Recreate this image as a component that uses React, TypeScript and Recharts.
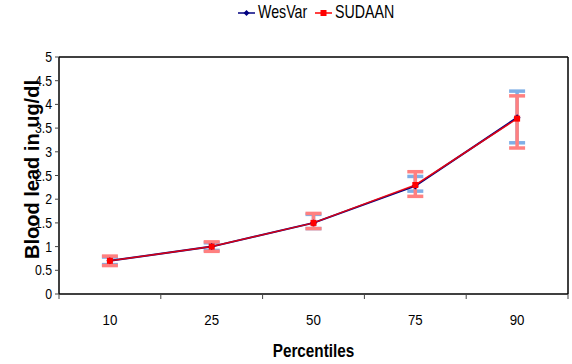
import React from "react";
import {
  ComposedChart,
  Line,
  XAxis,
  YAxis,
  ErrorBar,
  Legend,
  ReferenceLine,
} from "recharts";

const PERCENTILES = ["10", "25", "50", "75", "90"];
const WESVAR = [0.7, 1.0, 1.5, 2.28, 3.72];
const WESVAR_ERR: [number, number][] = [
  [0.08, 0.08],
  [0.08, 0.08],
  [0.12, 0.18],
  [0.11, 0.2],
  [0.53, 0.56],
];
const SUDAAN = [0.7, 1.0, 1.5, 2.3, 3.7];
const SUDAAN_ERR: [number, number][] = [
  [0.1, 0.1],
  [0.1, 0.1],
  [0.12, 0.2],
  [0.24, 0.28],
  [0.62, 0.48],
];
const Y_TICKS = [0, 0.5, 1, 1.5, 2, 2.5, 3, 3.5, 4, 4.5, 5];

const data = PERCENTILES.map((p, i) => ({
  pct: p,
  wesvar: WESVAR[i],
  wesvarErr: WESVAR_ERR[i],
  sudaan: SUDAAN[i],
  sudaanErr: SUDAAN_ERR[i],
}));

const FONT = '"Liberation Sans", Arial, sans-serif';
const NAVY = "#000080";
const RED = "#ff0000";

const W = 572;
const H = 364;
const LEGEND_H = 20;
const MARGIN = { top: 57 - LEGEND_H, right: 4, bottom: 0, left: 0 };
const Y_AXIS_W = 59;
const X_AXIS_H = 70;
const BAND = (W - MARGIN.left - MARGIN.right - Y_AXIS_W) / PERCENTILES.length;

// text squeezed horizontally, as in the original export
function Narrow(props: any) {
  const { x, y, sx = 0.85, children, ...rest } = props;
  return (
    <text transform={`translate(${x} ${y}) scale(${sx} 1)`} fontFamily={FONT} fill="#000" {...rest}>
      {children}
    </text>
  );
}

function XTick(props: any) {
  const { x, y, payload, index } = props;
  const half = BAND / 2;
  return (
    <g>
      <line x1={x - half} x2={x - half} y1={y} y2={y + 5} stroke="#444" />
      {index === PERCENTILES.length - 1 && (
        <line x1={x + half} x2={x + half} y1={y} y2={y + 5} stroke="#444" />
      )}
      <Narrow x={x} y={y + 31} sx={0.95} textAnchor="middle" fontSize={14}>
        {payload.value}
      </Narrow>
    </g>
  );
}

function YTick(props: any) {
  const { x, y, payload } = props;
  return (
    <Narrow x={x} y={y + 5} sx={0.88} textAnchor="end" fontSize={14}>
      {payload.value}
    </Narrow>
  );
}

function Diamond(props: any) {
  const { cx, cy } = props;
  if (cx == null || cy == null) return null;
  return (
    <path
      d={`M${cx},${cy - 3.5}L${cx + 3.5},${cy}L${cx},${cy + 3.5}L${cx - 3.5},${cy}Z`}
      fill={NAVY}
    />
  );
}

function Square(props: any) {
  const { cx, cy } = props;
  if (cx == null || cy == null) return null;
  return <rect x={cx - 3} y={cy - 3} width={6} height={6} fill={RED} />;
}

const LEGEND_ITEMS = [
  { name: "WesVar", color: NAVY, marker: "diamond", at: 238 },
  { name: "SUDAAN", color: RED, marker: "square", at: 315 },
];

function LegendContent() {
  return (
    <svg width={W} height={LEGEND_H} style={{ display: "block" }}>
      {LEGEND_ITEMS.map((it) => (
        <g key={it.name}>
          <line x1={it.at} x2={it.at + 17} y1={13} y2={13} stroke={it.color} strokeWidth={1.5} />
          {it.marker === "diamond" ? (
            <path
              d={`M${it.at + 8.5},${10}L${it.at + 11.5},${13}L${it.at + 8.5},${16}L${it.at + 5.5},${13}Z`}
              fill={it.color}
            />
          ) : (
            <rect x={it.at + 5.5} y={10} width={6} height={6} fill={it.color} />
          )}
          <Narrow x={it.at + 20} y={18} sx={0.79} fontSize={18}>
            {it.name}
          </Narrow>
        </g>
      ))}
    </svg>
  );
}

function YLabel(props: any) {
  const vb = props.viewBox || { x: 0, y: 57, width: Y_AXIS_W, height: 237 };
  const cx = vb.x + 32;
  const cy = vb.y + vb.height / 2 - 6;
  return (
    <text
      x={cx}
      y={cy}
      transform={`rotate(-90 ${cx} ${cy})`}
      textAnchor="middle"
      dominantBaseline="central"
      fontFamily={FONT}
      fontWeight="bold"
      fontSize={20}
      fill="#000"
    >
      Blood lead in ug/dl
    </text>
  );
}

function XLabel(props: any) {
  const vb = props.viewBox || { x: Y_AXIS_W, y: 294, width: 509, height: X_AXIS_H };
  return (
    <Narrow x={vb.x + vb.width / 2} y={vb.y + 63} sx={0.85} textAnchor="middle" fontWeight="bold" fontSize={18}>
      Percentiles
    </Narrow>
  );
}

export default function App() {
  return (
    <div style={{ position: "absolute", left: 0, top: 0, width: W, height: H, background: "#fff" }}>
      <ComposedChart width={W} height={H} data={data} margin={MARGIN}>
        <Legend
          verticalAlign="top"
          content={<LegendContent />}
          wrapperStyle={{ top: 0, left: 0, width: W, height: LEGEND_H }}
        />
        <XAxis
          dataKey="pct"
          scale="band"
          height={X_AXIS_H}
          axisLine={{ stroke: "#000", strokeWidth: 1.5 }}
          tickLine={false}
          tickSize={0}
          tickMargin={0}
          tick={<XTick />}
          interval={0}
          label={<XLabel />}
        />
        <YAxis
          width={Y_AXIS_W}
          domain={[0, 5]}
          ticks={Y_TICKS}
          interval={0}
          axisLine={{ stroke: "#000", strokeWidth: 1.5 }}
          tickLine={{ stroke: "#444" }}
          tickSize={4}
          tickMargin={3}
          tick={<YTick />}
          label={<YLabel />}
        />
        {/* plot box: top and right edges */}
        <ReferenceLine y={5} stroke="#000" strokeWidth={1.5} />
        <ReferenceLine
          x={PERCENTILES[PERCENTILES.length - 1]}
          position="end"
          stroke="#000"
          strokeWidth={1.5}
        />
        <Line
          dataKey="wesvar"
          name="WesVar"
          stroke={NAVY}
          strokeWidth={2}
          dot={<Diamond />}
          isAnimationActive={false}
        >
          <ErrorBar
            dataKey="wesvarErr"
            direction="y"
            width={8}
            stroke="#7fafe6"
            strokeWidth={3.5}
            isAnimationActive={false}
          />
        </Line>
        <Line
          dataKey="sudaan"
          name="SUDAAN"
          stroke={RED}
          strokeWidth={1.5}
          strokeOpacity={0.85}
          dot={<Square />}
          isAnimationActive={false}
        >
          <ErrorBar
            dataKey="sudaanErr"
            direction="y"
            width={8}
            stroke="#ff8080"
            strokeWidth={3.5}
            isAnimationActive={false}
          />
        </Line>
      </ComposedChart>
    </div>
  );
}
